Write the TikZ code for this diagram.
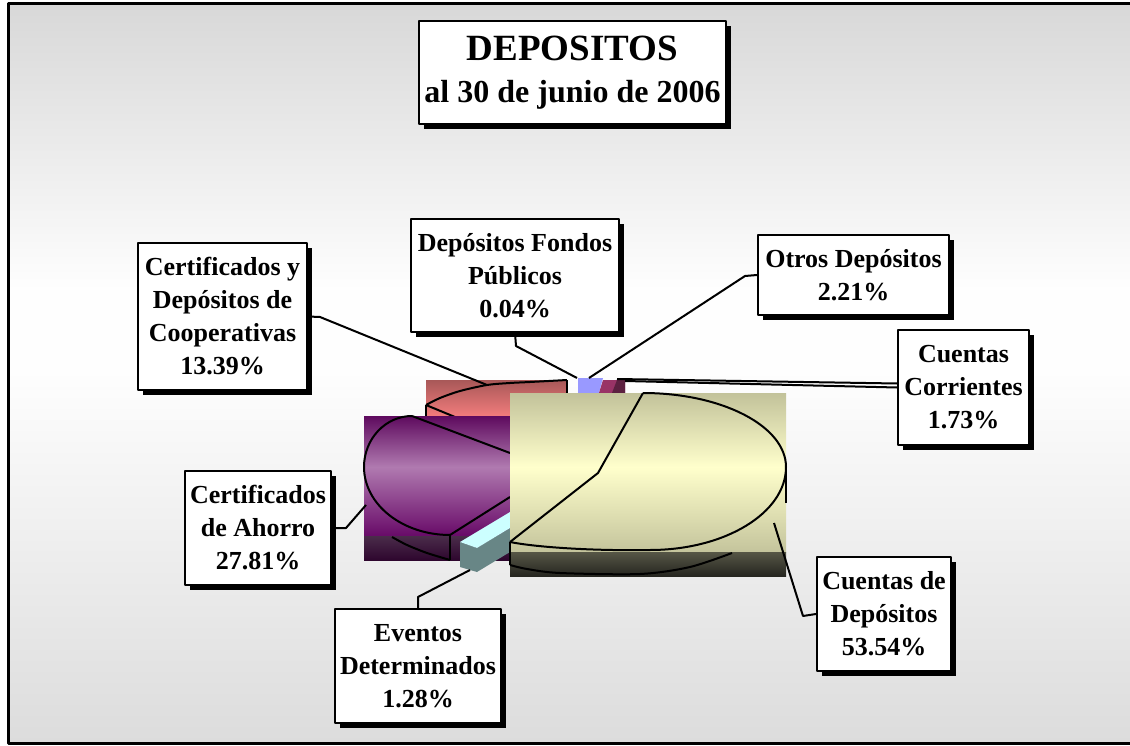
\documentclass[tikz,border=0pt]{standalone}
\usepackage{fontspec}
\setmainfont{Liberation Serif}
\usetikzlibrary{shadows}
\definecolor{bgtop}{HTML}{D8D8D8}
\definecolor{bgmid}{HTML}{FEFEFE}
\definecolor{bgbot}{HTML}{DCDCDC}
\definecolor{pinktop}{HTML}{A85858}
\definecolor{pinkbot}{HTML}{FA8080}
\definecolor{purdark}{HTML}{5E0A5E}
\definecolor{purlight}{HTML}{B07AB0}
\definecolor{purlow}{HTML}{680A68}
\definecolor{purband}{HTML}{4A2C4A}
\definecolor{purbandb}{HTML}{2E062E}
\definecolor{yeltop}{HTML}{C2C29A}
\definecolor{yellight}{HTML}{FFFFCC}
\definecolor{yellow2}{HTML}{C4C49C}
\definecolor{yelband}{HTML}{565646}
\definecolor{yelbandb}{HTML}{262620}
\definecolor{bluepiece}{HTML}{9999FF}
\definecolor{maroon}{HTML}{993366}
\definecolor{maroondk}{HTML}{5C2040}
\definecolor{cyantop}{HTML}{CCFFFF}
\definecolor{tealside}{HTML}{688686}
\begin{document}
\begin{tikzpicture}[x=1pt,y=-1pt,line join=round,
  lbl/.style={draw=black,line width=2pt,fill=white,align=center,inner sep=0pt,
    font=\bfseries\fontsize{26}{33}\selectfont,
    drop shadow={shadow xshift=5pt,shadow yshift=-5pt,fill=black,opacity=1}},
  conn/.style={line width=2pt},
  outl/.style={line width=2pt}]
\useasboundingbox (0,0) rectangle (1130,746);
\fill[white] (0,0) rectangle (1130,746);
% background
\shade[top color=bgtop,bottom color=bgmid] (8,4) rectangle (1136,290);
\fill[bgmid] (8,289.5) rectangle (1136,370.5);
\shade[top color=bgmid,bottom color=bgbot] (8,370) rectangle (1136,743);
\draw[line width=3pt] (8,4) rectangle (1136,743);

% ---- pie pieces ----
% pink slice
\shade[top color=pinktop,bottom color=pinkbot] (426,380) rectangle (567,420);
\draw[outl] plot[smooth] coordinates {(426,405) (440,398) (460,391) (487,385) (510,383) (530,382) (567,380)};
\draw[outl] (426,405) -- (455,417);
\draw[outl] (426,405) -- (426,416);
\draw[outl] (567,380) -- (567,393);
% blue and maroon slivers
\fill[bluepiece] (578,378) -- (603,378) -- (599,393) -- (578,393) -- cycle;
\fill[maroon] (603,380) -- (625,380) -- (625,393) -- (599,393) -- cycle;
\fill[maroondk] (617,380) -- (625,380) -- (625,393) -- (612,393) -- cycle;
% purple slice
\shade[top color=purdark,bottom color=purlight] (364,416) rectangle (510,467);
\shade[top color=purlight,bottom color=purlow] (364,467) rectangle (510,536);
\shade[top color=purband,bottom color=purbandb] (364,536) rectangle (510,560);
\draw[outl] (412,416) arc[start angle=-90,end angle=-180,x radius=48,y radius=51]
  arc[start angle=180,end angle=90,x radius=86,y radius=68];
\draw[outl] (412,416) -- (510,453);
\draw[outl] (450,535) -- (510,497);
\draw[outl] (450,535) -- (450,560);
\draw[outl] plot[smooth] coordinates {(392,537) (407,545) (427,553) (450,560)};
% eventos bar
\fill[tealside] (460,542) -- (477,548) -- (510,528) -- (510,552) -- (477,572) -- (460,567) -- cycle;
\fill[cyantop] (460,542) -- (510,512) -- (510,528) -- (477,548) -- cycle;
% yellow slice
\shade[top color=yeltop,bottom color=yellight] (510,393) rectangle (786,467);
\shade[top color=yellight,bottom color=yellow2] (510,467) rectangle (786,552);
\shade[top color=yelband,bottom color=yelbandb] (510,552) rectangle (786,576);
\draw[outl] (643,393) arc[start angle=-90,end angle=0,x radius=143,y radius=74]
  arc[start angle=0,end angle=90,x radius=136,y radius=83]
  .. controls (590,551) and (535,547) .. (510,542);
\draw[outl] (786,467) -- (786,503);
\draw[outl] (643,393) -- (598,473) -- (510,542);
\draw[outl] (510,542) -- (510,565);
\draw[outl] plot[smooth] coordinates {(510,565) (527,569) (560,573) (640,574) (690,567) (732,553)};

% ---- connector end points ----
\coordinate (coopk) at (320,317);
\coordinate (coopend) at (487,385);
\coordinate (fondosk) at (516,346);
\coordinate (fondosend) at (577,378);
\coordinate (otrosk) at (745,276);
\coordinate (otrosend) at (589,378);
\coordinate (ccend) at (617,379);
\coordinate (ccend2) at (625,381);
\coordinate (ahorrok) at (346,528);
\coordinate (ahorroend) at (366,505);
\coordinate (eventosk) at (418,597);
\coordinate (eventosend) at (470,570);
\coordinate (cdepk) at (803,616);
\coordinate (cdepend) at (774,523);

% ---- labels ----
\node[lbl,font=\bfseries\fontsize{32}{42}\selectfont,minimum width=307pt,minimum height=103pt] (title) at (572.5,72.5)
  {{\fontsize{37}{42}\selectfont DEPOSITOS}\\al 30 de junio de 2006};
\node[lbl,minimum width=169pt,minimum height=147pt] (coop) at (222.5,316.5)
  {Certificados y\\Depósitos de\\Cooperativas\\13.39\%};
\node[lbl,minimum width=208pt,minimum height=113pt] (fondos) at (515,275.5)
  {Depósitos Fondos\\Públicos\\0.04\%};
\node[lbl,minimum width=191pt,minimum height=80pt] (otros) at (853.5,275)
  {Otros Depósitos\\2.21\%};
\node[lbl,minimum width=131pt,minimum height=115pt] (cc) at (963.5,387.5)
  {Cuentas\\Corrientes\\1.73\%};
\node[lbl,minimum width=146pt,minimum height=114pt] (ahorro) at (258,528)
  {Certificados\\de Ahorro\\27.81\%};
\node[lbl,minimum width=166pt,minimum height=114pt] (eventos) at (418,666)
  {Eventos\\Determinados\\1.28\%};
\node[lbl,minimum width=134pt,minimum height=114pt] (cdep) at (884,614)
  {Cuentas de\\Depósitos\\53.54\%};

% ---- connectors ----
\draw[conn] (coop.east) -- (coopk) -- (coopend);
\draw[conn] (fondos.south) -- (fondosk) -- (fondosend);
\draw[conn] (otros.west) -- (otrosk) -- (otrosend);
\draw[conn] ([yshift=4pt]cc.west) -- (ccend);
\draw[conn] (cc.west) -- (ccend2);
\draw[conn] (ahorro.east) -- (ahorrok) -- (ahorroend);
\draw[conn] (eventos.north) -- (eventosk) -- (eventosend);
\draw[conn] (cdep.west) -- (cdepk) -- (cdepend);
\end{tikzpicture}
\end{document}
